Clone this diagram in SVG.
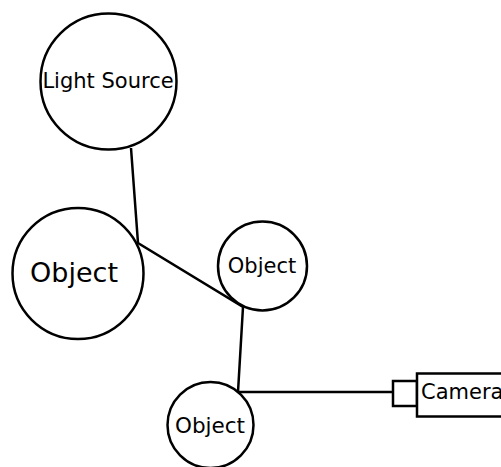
<svg xmlns="http://www.w3.org/2000/svg" width="501" height="467" viewBox="0 0 501 467">
  <style>
    .node { fill: #fff; stroke: #000; stroke-width: 2.5; }
    .edge { fill: none; stroke: #000; stroke-width: 2.5; }
    text { font-family: "DejaVu Sans", sans-serif; fill: #000; }
    .c { text-anchor: middle; }
  </style>
  <rect width="501" height="467" fill="#fff"/>
  <g id="connectors">
    <path class="edge" d="M131,148 L138,243 L243,307 L238,392 L393,392"/>
  </g>
  <g id="light-source">
    <circle class="node" cx="108.5" cy="81.5" r="68"/>
    <text class="c" x="108" y="88" font-size="21">Light Source</text>
  </g>
  <g id="object-left">
    <circle class="node" cx="78" cy="273.5" r="65.5"/>
    <text class="c" x="74" y="282" font-size="27">Object</text>
  </g>
  <g id="object-right">
    <circle class="node" cx="262.5" cy="266" r="44.5"/>
    <text class="c" x="262" y="273" font-size="21">Object</text>
  </g>
  <g id="object-bottom">
    <circle class="node" cx="210.5" cy="425" r="43"/>
    <text class="c" x="210" y="433" font-size="21.5">Object</text>
  </g>
  <g id="camera">
    <rect class="node" x="393" y="381" width="24" height="25"/>
    <rect class="node" x="417" y="373.5" width="100" height="43"/>
    <text x="421" y="399" font-size="21">Camera</text>
  </g>
</svg>
